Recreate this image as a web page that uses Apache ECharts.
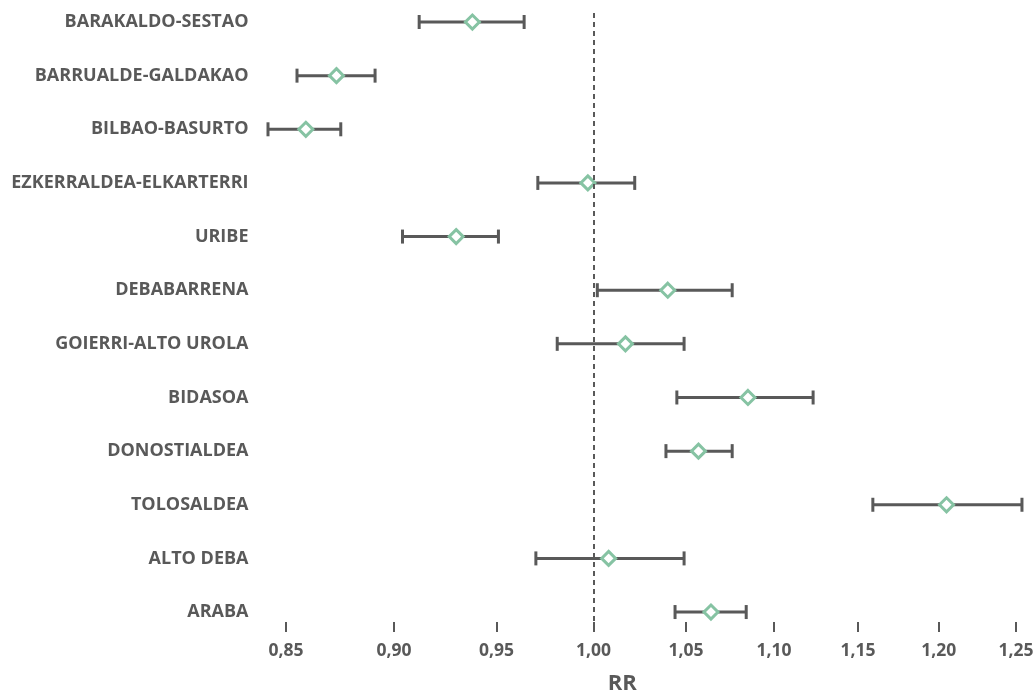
<!DOCTYPE html>
<html>
<head>
<meta charset="utf-8">
<script src="https://cdn.jsdelivr.net/npm/echarts@6/dist/echarts.min.js"></script>
<style>
html,body{margin:0;padding:0;background:#fff;}
#chart{width:1035px;height:698px;}
</style>
</head>
<body>
<div id="chart"></div>
<script>
const categories = ["BARAKALDO-SESTAO","BARRUALDE-GALDAKAO","BILBAO-BASURTO","EZKERRALDEA-ELKARTERRI","URIBE","DEBABARRENA","GOIERRI-ALTO UROLA","BIDASOA","DONOSTIALDEA","TOLOSALDEA","ALTO DEBA","ARABA"];
const rr    = [0.938, 0.873, 0.859, 0.997, 0.930, 1.040, 1.017, 1.085, 1.057, 1.205, 1.008, 1.064];
const lower = [0.912, 0.855, 0.842, 0.971, 0.904, 1.002, 0.981, 1.045, 1.039, 1.159, 0.970, 1.044];
const upper = [0.964, 0.891, 0.875, 1.022, 0.951, 1.076, 1.049, 1.123, 1.076, 1.254, 1.049, 1.084];
const xTicks = [0.85, 0.90, 0.95, 1.00, 1.05, 1.10, 1.15, 1.20, 1.25];
const refValue = 1.00;

const TXT = '#595959';
const FONT = '"Open Sans", "Noto Sans", sans-serif';
const ln = Math.log;

const chart = echarts.init(document.getElementById('chart'), null, {renderer: 'canvas'});

const errData = categories.map((c, i) => [ln(lower[i]), ln(upper[i]), i]);
const ptData = categories.map((c, i) => [ln(rr[i]), i]);

function fmtX(v) {
  const val = Math.exp(v);
  return val.toFixed(2).replace('.', ',');
}

const option = {
  animation: false,
  backgroundColor: '#ffffff',
  grid: {left: 263.5, right: 4, top: 13, bottom: 66, outerBoundsMode: 'none'},
  xAxis: {
    type: 'value',
    position: 'bottom',
    min: ln(0.84),
    max: ln(1.26),
    splitLine: {show: false},
    axisLine: {show: true, onZero: false, lineStyle: {color: '#ffffff', width: 1}},
    axisTick: {show: true, inside: true, length: 10, lineStyle: {color: TXT, width: 2}, customValues: xTicks.map(ln)},
    axisLabel: {
      customValues: xTicks.map(ln),
      formatter: fmtX,
      color: TXT, fontFamily: FONT, fontWeight: 'bold', fontSize: 17.5, margin: 10
    },
    name: 'RR',
    nameLocation: 'middle',
    nameGap: 41,
    nameTextStyle: {color: TXT, fontFamily: FONT, fontWeight: 'bold', fontSize: 22, padding: [0, 50, 0, 0]}
  },
  yAxis: {
    type: 'value',
    inverse: true,
    min: -0.168,
    max: 11.372,
    splitLine: {show: false},
    axisLine: {show: false, onZero: false},
    axisTick: {show: false},
    axisLabel: {
      customValues: categories.map((c, i) => i),
      formatter: v => categories[Math.round(v)] || '',
      color: TXT, fontFamily: FONT, fontWeight: 'bold', fontSize: 18, margin: 15
    }
  },
  series: [
    {
      type: 'custom',
      name: 'IC',
      encode: {x: [0, 1], y: 2},
      data: errData,
      z: 2,
      renderItem: function (params, api) {
        const y = api.value(2);
        const p1 = api.coord([api.value(0), y]);
        const p2 = api.coord([api.value(1), y]);
        const h = 7;
        const style = {stroke: TXT, lineWidth: 3, fill: null};
        return {
          type: 'group',
          children: [
            {type: 'line', shape: {x1: p1[0], y1: p1[1], x2: p2[0], y2: p2[1]}, style: style},
            {type: 'line', shape: {x1: p1[0], y1: p1[1] - h, x2: p1[0], y2: p1[1] + h}, style: style},
            {type: 'line', shape: {x1: p2[0], y1: p2[1] - h, x2: p2[0], y2: p2[1] + h}, style: style}
          ]
        };
      },
      markLine: {
        silent: true,
        symbol: ['none', 'none'],
        label: {show: false},
        lineStyle: {color: TXT, width: 2, type: [5, 4]},
        data: [{xAxis: ln(refValue)}]
      }
    },
    {
      type: 'scatter',
      name: 'RR',
      data: ptData,
      symbol: 'diamond',
      symbolSize: 14,
      z: 3,
      itemStyle: {color: '#ffffff', borderColor: '#86c3a3', borderWidth: 3, opacity: 1}
    }
  ]
};
chart.setOption(option);
</script>
</body>
</html>
